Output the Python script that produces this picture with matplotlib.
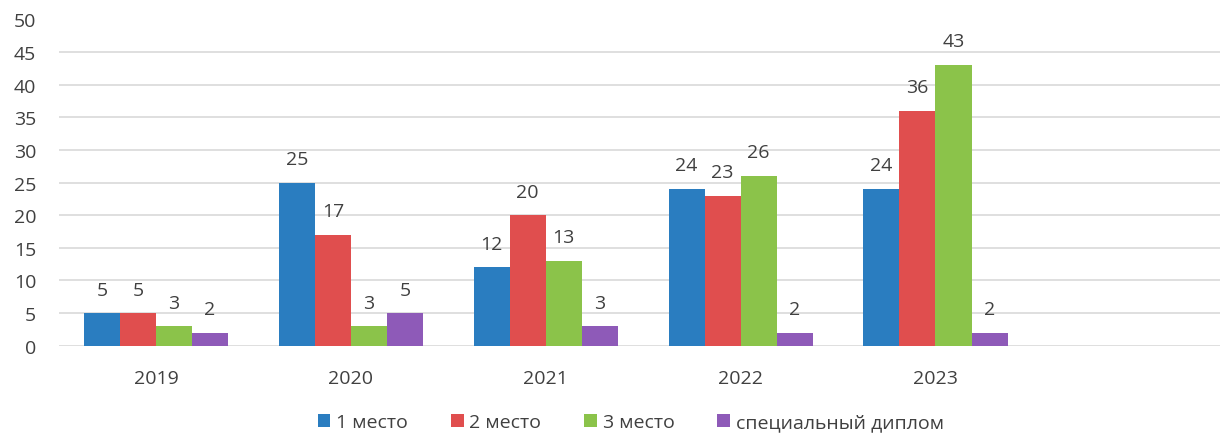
import numpy as np
import matplotlib.pyplot as plt

years = ['2019', '2020', '2021', '2022', '2023', '']
series_names = ['1 место', '2 место', '3 место', 'специальный диплом']
first_place = [5, 25, 12, 24, 24]
second_place = [5, 17, 20, 23, 36]
third_place = [3, 3, 13, 26, 43]
special = [2, 5, 3, 2, 2]
colors = ['#2A7DC0', '#E04E4E', '#8BC34A', '#8E5AB8']

plt.rcParams['font.family'] = ['Open Sans', 'DejaVu Sans']

fig = plt.figure(figsize=(12.2, 4.39), dpi=100)
ax = fig.add_axes([0.048, 0.21, 0.952, 0.744])

all_series = [first_place, second_place, third_place, special]
x = np.arange(len(first_place))
width = 0.185
for i, (vals, name, col) in enumerate(zip(all_series, series_names, colors)):
    pos = x + (i - 1.5) * width
    bars = ax.bar(pos, vals, width, color=col, label=name, zorder=3)
    for b, v in zip(bars, vals):
        ax.annotate(str(v), (b.get_x() + b.get_width() / 2, v),
                    xytext=(0, 17), textcoords='offset points',
                    ha='center', va='center', fontsize=14, color='#404040')

ax.set_xlim(-0.5, 5.46)
ax.set_ylim(0, 50)
ax.set_yticks(range(0, 51, 5))
ax.set_xticks(range(len(years)))
ax.set_xticklabels(years)
for y in range(0, 50, 5):
    ax.axhline(y, color='#D9D9D9', lw=1.2, zorder=1)

for s in ax.spines.values():
    s.set_visible(False)
ax.tick_params(axis='both', length=0, labelsize=14, colors='#404040')
ax.tick_params(axis='x', pad=17)
ax.tick_params(axis='y', pad=16)

fig.legend(loc='lower center', bbox_to_anchor=(0.517, -0.025), ncol=4, frameon=False,
           fontsize=14, handlelength=0.65, handleheight=0.65, handletextpad=0.3,
           columnspacing=2.2, labelcolor='#404040')

fig.savefig('out.png', dpi=100)
